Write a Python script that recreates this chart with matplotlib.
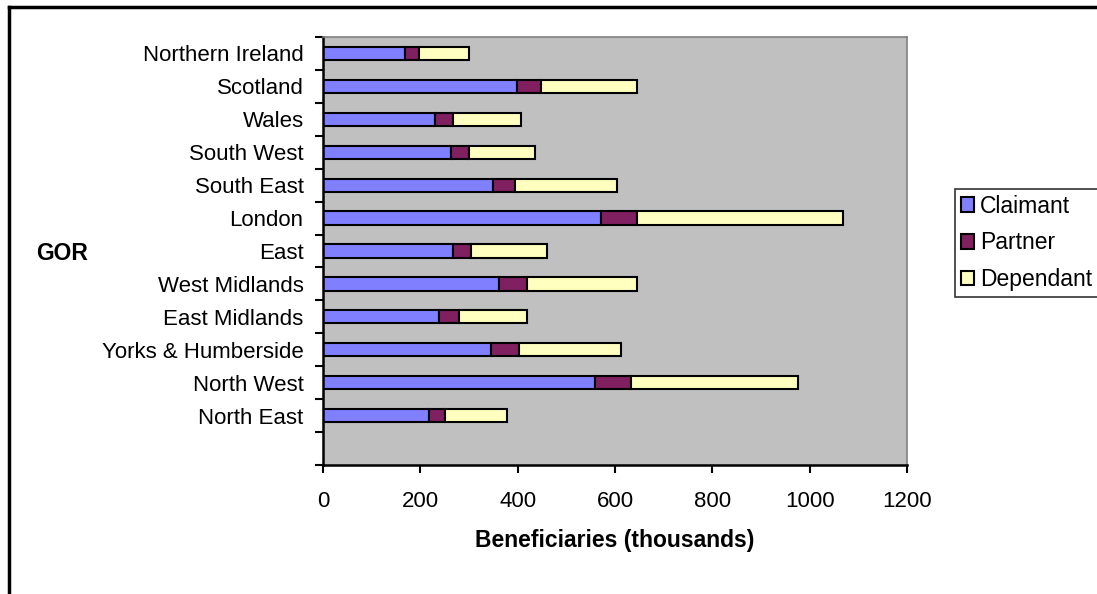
import numpy as np
import matplotlib
matplotlib.use('Agg')
import matplotlib.pyplot as plt
from matplotlib.lines import Line2D
from matplotlib.patches import Patch

plt.rcParams['font.family'] = ['Liberation Sans', 'DejaVu Sans']

# regions listed bottom to top, values in thousands
regions = ['North East', 'North West', 'Yorks & Humberside', 'East Midlands',
           'West Midlands', 'East', 'London', 'South East', 'South West',
           'Wales', 'Scotland', 'Northern Ireland']
claimant = [218, 559, 345, 238, 361, 267, 571, 350, 262, 230, 398, 168]
partner = [33, 74, 58, 42, 59, 38, 75, 45, 39, 38, 50, 30]
dependant = [128, 342, 210, 140, 225, 156, 423, 209, 135, 139, 197, 102]

colors = ['#8080FF', '#802060', '#FFFFC0']
names = ['Claimant', 'Partner', 'Dependant']

fig = plt.figure(figsize=(10.97, 5.94), dpi=100)
ax = fig.add_axes([323/1097., 1-465/594., (907-323)/1097., (465-37)/594.])
ax.set_facecolor('#C0C0C0')

y = np.arange(len(regions))
cl = np.array(claimant)
pa = np.array(partner)
de = np.array(dependant)
ax.barh(y, cl, height=0.4, color=colors[0], edgecolor='black', lw=1.5)
ax.barh(y, pa, left=cl, height=0.4, color=colors[1], edgecolor='black', lw=1.5)
ax.barh(y, de, left=cl+pa, height=0.4, color=colors[2], edgecolor='black', lw=1.5)

ax.set_xlim(0, 1200)
ax.set_ylim(-1.5, 11.5)
ax.set_xticks(np.arange(0, 1201, 200))
ax.set_yticks(y)
ax.set_yticklabels(regions)
ax.set_yticks(np.arange(-1.5, 12, 1), minor=True)
ax.tick_params(axis='y', which='major', length=0, pad=14, labelsize=16)
ax.tick_params(axis='y', which='minor', length=6, width=1.5, direction='out')
ax.tick_params(axis='x', length=6, width=1.5, direction='out', pad=13, labelsize=16)

for s in ['left', 'bottom']:
    ax.spines[s].set_linewidth(1.8)
    ax.spines[s].set_color('black')
for s in ['top', 'right']:
    ax.spines[s].set_linewidth(1.2)
    ax.spines[s].set_color('#808080')

ax.set_xlabel('Beneficiaries (thousands)', fontsize=16.5, fontweight='bold', labelpad=12)
fig.text(36/1097., 1-253/594., 'GOR', fontsize=16.5, fontweight='bold', va='center', ha='left')

handles = [Patch(facecolor=c, edgecolor='black', lw=1.5) for c in colors]
leg = fig.legend(handles, names, loc='upper left', bbox_to_anchor=(955/1097., 1-189/594.),
                 fontsize=16.5, frameon=True, fancybox=False, handlelength=0.6,
                 handleheight=0.6, handletextpad=0.25, borderpad=0.25, labelspacing=0.6,
                 borderaxespad=0)
leg.get_frame().set_edgecolor('black')
leg.get_frame().set_linewidth(1.2)

# outer chart border
fig.add_artist(Line2D([9/1097., 9/1097.], [0, 1-7/594.], color='black', lw=2.5))
fig.add_artist(Line2D([9/1097., 1], [1-7/594., 1-7/594.], color='black', lw=2.5))

fig.savefig('out.png', dpi=100)
